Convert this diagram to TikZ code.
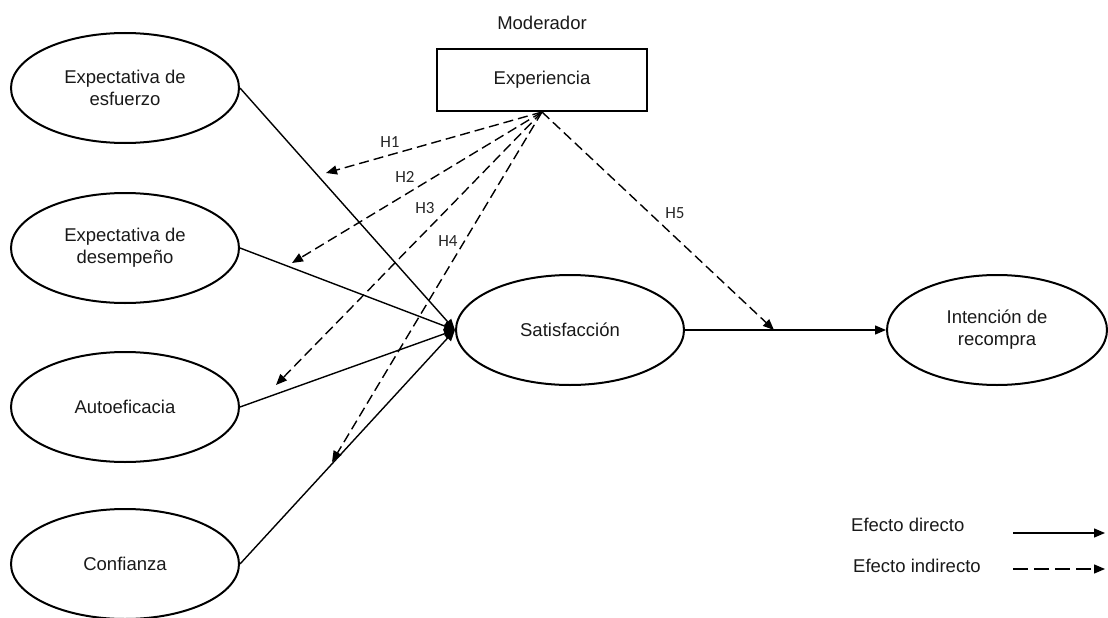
\documentclass[tikz,border=0pt]{standalone}
\usepackage{fontspec}
\setmainfont{Liberation Sans}
\newfontfamily\hfont{Carlito}
\usetikzlibrary{shapes.geometric,arrows.meta}
\begin{document}
\begin{tikzpicture}[x=1pt,y=-1pt,
  lat/.style={draw, ellipse, line width=2pt, minimum width=228pt, minimum height=110pt,
              inner sep=0pt, align=center, text=black!90, font=\fontsize{18.5}{22}\selectfont},
  modbox/.style={draw, line width=2pt, minimum width=210pt, minimum height=62pt,
              inner sep=0pt, text=black!90, font=\fontsize{18.5}{22}\selectfont},
  txt/.style={text=black!90, inner sep=0pt, font=\fontsize{18.5}{22}\selectfont},
  hlab/.style={text=black!85, inner sep=0pt, font=\hfont\fontsize{17}{19}\selectfont},
  tip/.style={-{Triangle[length=11pt,width=9pt]}},
  direct/.style={line width=1.4pt, tip},
  indirect/.style={line width=1.4pt, dash pattern=on 10pt off 5pt, tip},
  legdash/.style={line width=1.4pt, dash pattern=on 15pt off 6pt, tip}]
\useasboundingbox (0,0) rectangle (1108,618);

% latent variables
\node[lat] (e1) at (125,88)  {Expectativa de\\esfuerzo};
\node[lat] (e2) at (125,248) {Expectativa de\\desempeño};
\node[lat] (e3) at (125,407) {Autoeficacia};
\node[lat] (e4) at (125,564) {Confianza};
\node[lat] (sat) at (570,330) {Satisfacción};
\node[lat, minimum width=220pt] (int) at (997,330) {Intención de\\recompra};

% moderator
\node[txt] (mod) at (542,23) {Moderador};
\node[modbox] (exp) at (542,80) {Experiencia};

% free ends of the moderating arrows
\coordinate (h1) at (326,173);
\coordinate (h2) at (292,263);
\coordinate (h3) at (276,385);
\coordinate (h4) at (332,462);
\coordinate (h5) at (774,330);

% direct effects
\draw[direct] (e1.east) -- (sat.west);
\draw[direct] (e2.east) -- (sat.west);
\draw[direct] (e3.east) -- (sat.west);
\draw[direct] (e4.east) -- (sat.west);
\draw[direct] (sat.east) -- (int.west);

% indirect (moderating) effects
\draw[indirect] (exp.south) -- (h1);
\draw[indirect] (exp.south) -- (h2);
\draw[indirect] (exp.south) -- (h3);
\draw[indirect] (exp.south) -- (h4);
\draw[indirect] (exp.south) -- (h5);

% hypothesis labels
\node[hlab] (l1) at (390,142) {H1};
\node[hlab] (l2) at (405,177) {H2};
\node[hlab] (l3) at (425,208) {H3};
\node[hlab] (l4) at (448,241) {H4};
\node[hlab] (l5) at (675,213) {H5};

% legend
\node[txt, anchor=west] (ld) at (851,525) {Efecto directo};
\node[txt, anchor=west] (li) at (853,566) {Efecto indirecto};
\coordinate (lda) at (1013,533);
\coordinate (ldb) at (1105,533);
\coordinate (lia) at (1013,569);
\coordinate (lib) at (1105,569);
\draw[direct] (lda) -- (ldb);
\draw[legdash] (lia) -- (lib);
\end{tikzpicture}
\end{document}
